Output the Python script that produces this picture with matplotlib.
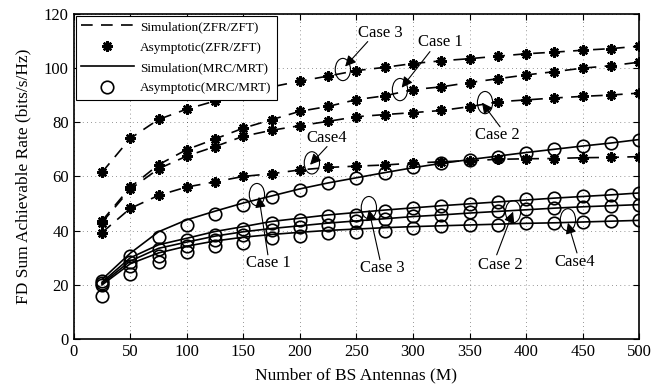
import matplotlib
matplotlib.use("Agg")
import matplotlib.pyplot as plt
from matplotlib.patches import Ellipse
from matplotlib.lines import Line2D

plt.rcParams["font.family"] = ["Liberation Serif", "DejaVu Serif"]

antennas = [25, 50, 75, 100, 125, 150, 175, 200, 225, 250,
            275, 300, 325, 350, 375, 400, 425, 450, 475, 500]

# ZFR/ZFT, simulation and asymptotic
zf_case3 = [61.5, 74, 81, 84.8, 87.8, 90.5, 93, 95.1, 97, 99,
            100.2, 101.6, 102.6, 103.4, 104.3, 105.2, 105.8, 106.5, 107.1, 108]
zf_case1 = [43.6, 56, 64.3, 69.9, 73.8, 77.8, 80.9, 84, 85.8, 88.3,
            89.7, 92, 93, 94.6, 96, 97.4, 98.6, 99.9, 100.8, 102.1]
zf_case2 = [43, 55.3, 62.8, 67.5, 71, 74.8, 77, 78.7, 80.3, 82,
            82.8, 83.5, 84.3, 85.7, 87.5, 88.2, 88.9, 89.5, 90, 90.7]
zf_case4 = [39.3, 48.2, 53, 56.1, 58, 60, 61, 62.4, 63.3, 63.8,
            64.2, 64.9, 65.4, 65.8, 66.3, 66.5, 66.6, 66.9, 67, 67.3]

# MRC/MRT simulation
mrc_sim_case1 = [22, 31.7, 39.6, 44, 47.2, 50.2, 52.8, 55.4, 57.6, 59.5,
                 61.4, 63.2, 64.8, 66.2, 67.5, 68.8, 70, 71.2, 72.3, 73.6]
mrc_sim_case3 = [21, 30, 34.8, 37.2, 39.7, 41.5, 43.4, 44.6, 45.8, 46.7,
                 47.6, 48.4, 49.2, 49.9, 50.6, 51.3, 52, 52.6, 53.2, 53.9]
mrc_sim_case2 = [20.5, 28.8, 33.5, 35.8, 38, 39.6, 40.8, 41.8, 42.8, 43.6,
                 44.4, 45.2, 45.8, 46.5, 47.1, 47.7, 48.3, 48.8, 49.2, 49.6]
mrc_sim_case4 = [20, 27.8, 31.8, 34.3, 36.2, 37.6, 38.6, 39.4, 40.1, 40.6,
                 41.1, 41.5, 41.8, 42.1, 42.4, 42.7, 42.9, 43.2, 43.5, 43.8]

# MRC/MRT asymptotic
mrc_asy_case1 = [21.5, 30.8, 37.6, 42.2, 46.1, 49.5, 52.5, 55.1, 57.4, 59.4,
                 61.3, 63.3, 64.9, 66.2, 67.3, 68.8, 70.1, 71.1, 72.3, 73.6]
mrc_asy_case3 = [20.6, 28.6, 33.3, 36.4, 38.5, 40.6, 42.8, 44, 45.5, 45.9,
                 47.3, 48.5, 49, 49.7, 50.6, 51.5, 52, 52.6, 53.1, 53.9]
mrc_asy_case2 = [20, 26.8, 30.7, 34.2, 36.6, 38.5, 40.3, 41.3, 42.2, 43.4,
                 44.3, 45.3, 45.8, 46.7, 47.1, 48, 48.3, 48.7, 49.2, 49.6]
mrc_asy_case4 = [16.1, 24.1, 28.4, 32.3, 34.2, 35.6, 37.2, 38.1, 39.2, 39.5,
                 40, 40.9, 41.6, 42, 42.2, 42.8, 43, 43.2, 43.6, 43.8]

zf_series = [zf_case3, zf_case1, zf_case2, zf_case4]
mrc_sim = [mrc_sim_case1, mrc_sim_case3, mrc_sim_case2, mrc_sim_case4]
mrc_asy = [mrc_asy_case1, mrc_asy_case3, mrc_asy_case2, mrc_asy_case4]

# (label, text pos, arrow tail, arrow tip, ellipse centre)
notes = [
    ("Case 3", (271, 112.7), (260, 109.7), (240, 100.5), (238, 99.4)),
    ("Case 1", (324, 109.7), (315, 106.0), (290, 92.7), (288.5, 92.0)),
    ("Case 2", (375, 75.4), (377, 78.3), (361, 87.2), (363.7, 87.2)),
    ("Case4", (224, 74.3), (224, 71.0), (209, 64.3), (210.6, 65.0)),
    ("Case 1", (171.7, 28.2), (171.7, 31.1), (163.7, 52.5), (162, 53.3)),
    ("Case 3", (272.6, 26.3), (270.8, 29.3), (261, 47.7), (261, 48.5)),
    ("Case 2", (377, 27.4), (374, 31.1), (388.5, 47.0), (388.5, 47.0)),
    ("Case4", (443, 28.5), (445, 31.8), (437, 42.9), (437, 44.0)),
]

star = (8, 2, 0)

fig = plt.figure(figsize=(6.7, 3.89), dpi=100)
ax = fig.add_axes([0.110, 0.128, 0.844, 0.837])

for ys in zf_series:
    ax.plot(antennas, ys, color="black", lw=1.2, ls=(0, (7, 5)))
    ax.plot(antennas, ys, ls="none", marker=star, ms=7.5, mew=1.7,
            color="black")
for ys in mrc_sim:
    ax.plot(antennas, ys, color="black", lw=1.2)
for ys in mrc_asy:
    ax.plot(antennas, ys, ls="none", marker="o", ms=9, mew=1.2,
            mfc="none", mec="black")

for label, txt, tail, tip, centre in notes:
    ax.add_patch(Ellipse(centre, 13.5, 8.2, fill=False, lw=0.8, color="black"))
    ax.annotate("", xy=tip, xytext=tail,
                arrowprops=dict(arrowstyle="-|>", color="black", lw=0.8,
                                mutation_scale=16, shrinkA=0, shrinkB=0))
    ax.text(txt[0], txt[1], label, ha="center", va="center", fontsize=12)

ax.set_xlim(0, 500)
ax.set_ylim(0, 120)
ax.set_xticks(range(0, 501, 50))
ax.set_yticks(range(0, 121, 20))
ax.tick_params(direction="in", top=True, right=True, labelsize=12,
               length=4, width=0.8)
ax.grid(True, ls=(0, (1, 4)), color="black", lw=0.6, alpha=0.55)
for sp in ax.spines.values():
    sp.set_linewidth(1.2)
ax.set_xlabel("Number of BS Antennas (M)", fontsize=12.5, labelpad=5)
ax.set_ylabel("FD Sum Achievable Rate (bits/s/Hz)", fontsize=12.5, labelpad=9)

handles = [
    Line2D([], [], color="black", lw=1.2, ls=(0, (7, 5))),
    Line2D([], [], ls="none", marker=star, ms=7.5, mew=1.7, color="black"),
    Line2D([], [], color="black", lw=1.2),
    Line2D([], [], ls="none", marker="o", ms=9, mew=1.2, mfc="none",
           mec="black"),
]
labels = ["Simulation(ZFR/ZFT)", "Asymptotic(ZFR/ZFT)",
          "Simulation(MRC/MRT)", "Asymptotic(MRC/MRT)"]
leg = ax.legend(handles, labels, loc="upper left", fontsize=9.5,
                fancybox=False, edgecolor="black", framealpha=1,
                handlelength=4.0, handletextpad=0.5, borderaxespad=0.15,
                labelspacing=0.62)
leg.get_frame().set_linewidth(0.8)

fig.savefig("out.png", dpi=100)
